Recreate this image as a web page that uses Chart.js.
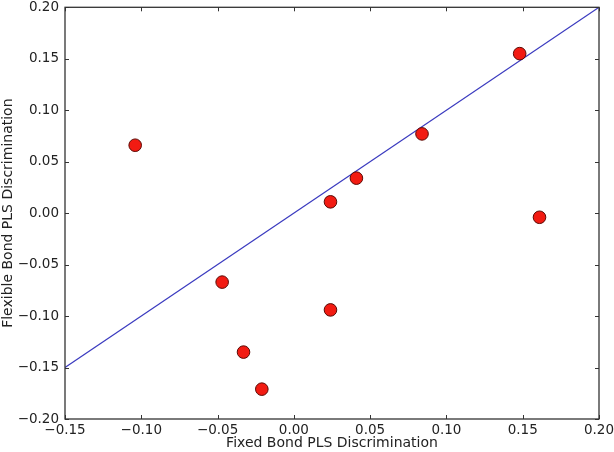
<!DOCTYPE html>
<html>
<head>
<meta charset="utf-8">
<script src="https://cdn.jsdelivr.net/npm/chart.js@4.4.0/dist/chart.umd.min.js"></script>
<style>
  html, body { margin: 0; padding: 0; background: #fff; }
  #wrap { width: 614px; height: 452px; }
</style>
</head>
<body>
<div id="wrap"><canvas id="plot" width="614" height="452"></canvas></div>
<script>
// Scatter points
const fixedBond = [-0.104, -0.047, -0.033, -0.021, 0.024, 0.024, 0.041, 0.084, 0.148, 0.161];
const flexBond  = [0.066, -0.067, -0.135, -0.171, 0.011, -0.094, 0.034, 0.077, 0.155, -0.004];

// y = x reference line
const lineX = [-0.15, 0.20];
const lineY = [-0.15, 0.20];

const xMin = -0.15, xMax = 0.20;
const yMin = -0.20, yMax = 0.20;
const tickStep = 0.05;

const xTitle = 'Fixed Bond PLS Discrimination';
const yTitle = 'Flexible Bond PLS Discrimination';

function fmtTick(v) {
  if (Math.abs(v) < 1e-9) v = 0;
  return v.toFixed(2).replace('-', '\u2212');
}

// no extra room for overhanging end labels, layout padding decides
function noOverhang(s) {
  s.paddingTop = 0; s.paddingBottom = 0;
  s.paddingLeft = 0; s.paddingRight = 0;
}

// matplotlib-style box with inward ticks on all four sides
const frame = {
  id: 'frame',
  afterDatasetsDraw(chart) {
    const {ctx, chartArea: a, scales: {x, y}} = chart;
    ctx.save();
    ctx.strokeStyle = '#333';
    ctx.lineWidth = 1;
    ctx.beginPath();
    x.ticks.forEach(t => {
      const px = Math.round(x.getPixelForValue(t.value)) + 0.5;
      ctx.moveTo(px, a.bottom); ctx.lineTo(px, a.bottom - 4);
      ctx.moveTo(px, a.top); ctx.lineTo(px, a.top + 4);
    });
    y.ticks.forEach(t => {
      const py = Math.round(y.getPixelForValue(t.value)) + 0.5;
      ctx.moveTo(a.left, py); ctx.lineTo(a.left + 4, py);
      ctx.moveTo(a.right, py); ctx.lineTo(a.right - 4, py);
    });
    ctx.stroke();
    ctx.lineWidth = 1.3;
    ctx.strokeRect(a.left, a.top, a.right - a.left, a.bottom - a.top);
    ctx.restore();
  }
};

const ctx = document.getElementById('plot').getContext('2d');
const chart = new Chart(ctx, {
  type: 'scatter',
  data: {
    datasets: [
      {
        label: 'points',
        data: fixedBond.map((v, i) => ({x: v, y: flexBond[i]})),
        backgroundColor: '#f21b12',
        borderColor: '#5a0a05',
        borderWidth: 1,
        pointRadius: 6.3,
        order: 0
      },
      {
        type: 'line',
        label: 'identity',
        data: lineX.map((v, i) => ({x: v, y: lineY[i]})),
        borderColor: '#3a3abf',
        borderWidth: 1.2,
        pointRadius: 0,
        fill: false,
        order: 1
      }
    ]
  },
  options: {
    responsive: false,
    animation: false,
    layout: { padding: { left: 0, top: 6, right: 15, bottom: 0 } },
    plugins: { legend: { display: false }, tooltip: { enabled: false } },
    scales: {
      x: {
        type: 'linear',
        min: xMin, max: xMax,
        afterFit: s => { s.height = 33; noOverhang(s); },
        grid: { display: false, drawTicks: false },
        border: { display: false },
        ticks: {
          stepSize: tickStep,
          padding: 3,
          color: '#222',
          font: { family: 'DejaVu Sans', size: 13.5 },
          callback: v => fmtTick(v)
        },
        title: {
          display: true, text: xTitle, color: '#222',
          padding: { top: 0, bottom: 0 },
          font: { family: 'DejaVu Sans', size: 14 }
        }
      },
      y: {
        type: 'linear',
        min: yMin, max: yMax,
        afterFit: s => { s.width = 65; noOverhang(s); },
        grid: { display: false, drawTicks: false },
        border: { display: false },
        ticks: {
          stepSize: tickStep,
          padding: 6,
          color: '#222',
          font: { family: 'DejaVu Sans', size: 13.5 },
          callback: v => fmtTick(v)
        },
        title: {
          display: true, text: yTitle, color: '#222',
          padding: { top: 0, bottom: 0 },
          font: { family: 'DejaVu Sans', size: 14 }
        }
      }
    }
  },
  plugins: [frame]
});
</script>
</body>
</html>
